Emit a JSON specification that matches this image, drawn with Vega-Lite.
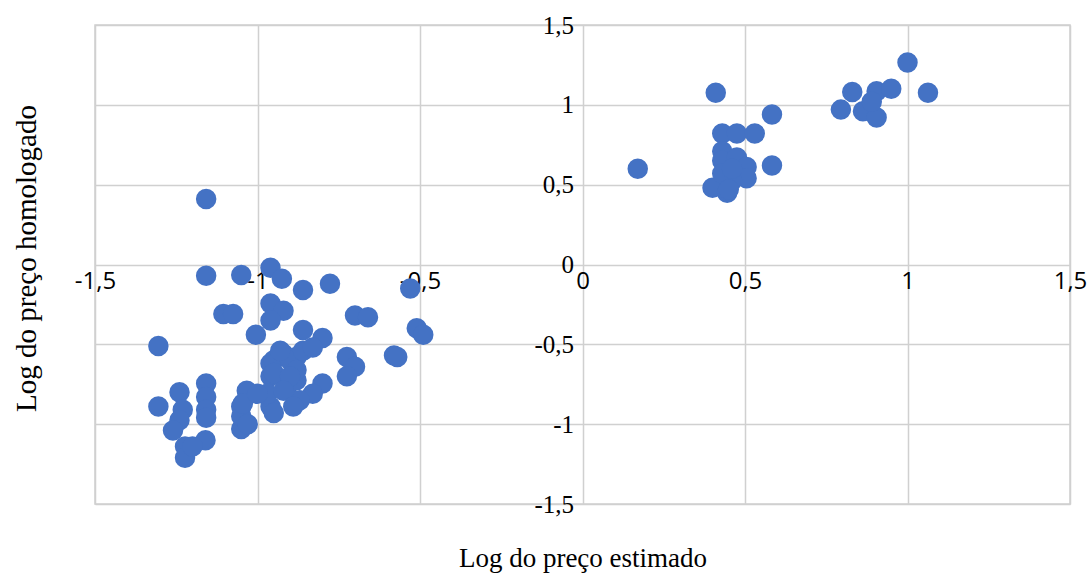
{
  "$schema": "https://vega.github.io/schema/vega-lite/v6.json",
  "autosize": "none",
  "width": 975,
  "height": 479,
  "padding": {"left": 95, "top": 25, "right": 20, "bottom": 70},
  "background": "white",
  "config": {
    "locale": {"number": {"decimal": ",", "thousands": ".", "grouping": [3], "currency": ["", ""], "minus": "-"}},
    "view": {"stroke": "#d0d0d0", "strokeWidth": 1.5},
    "font": "Liberation Serif"
  },
  "data": {"values": [
    {"x": 0.17, "y": 0.60}, {"x": 0.41, "y": 1.075}, {"x": 0.43, "y": 0.82}, {"x": 0.475, "y": 0.82}, {"x": 0.53, "y": 0.82},
    {"x": 0.583, "y": 0.94}, {"x": 0.583, "y": 0.62}, {"x": 0.43, "y": 0.71}, {"x": 0.43, "y": 0.65}, {"x": 0.475, "y": 0.67},
    {"x": 0.505, "y": 0.61}, {"x": 0.505, "y": 0.54}, {"x": 0.40, "y": 0.48}, {"x": 0.445, "y": 0.45}, {"x": 0.46, "y": 0.525},
    {"x": 0.43, "y": 0.57}, {"x": 0.46, "y": 0.60}, {"x": 0.45, "y": 0.47},
    {"x": 1.0, "y": 1.265}, {"x": 1.063, "y": 1.075}, {"x": 0.83, "y": 1.08}, {"x": 0.905, "y": 1.085}, {"x": 0.95, "y": 1.10},
    {"x": 0.795, "y": 0.97}, {"x": 0.863, "y": 0.96}, {"x": 0.905, "y": 0.92}, {"x": 0.89, "y": 1.02},
    {"x": -1.158, "y": 0.41}, {"x": -1.158, "y": -0.07}, {"x": -1.05, "y": -0.065}, {"x": -0.96, "y": -0.02}, {"x": -0.925, "y": -0.09},
    {"x": -0.86, "y": -0.16}, {"x": -0.777, "y": -0.12}, {"x": -1.105, "y": -0.31}, {"x": -1.075, "y": -0.31}, {"x": -0.96, "y": -0.245},
    {"x": -0.92, "y": -0.29}, {"x": -0.96, "y": -0.35}, {"x": -1.005, "y": -0.44}, {"x": -1.305, "y": -0.51}, {"x": -1.305, "y": -0.89},
    {"x": -1.24, "y": -0.80}, {"x": -1.158, "y": -0.745}, {"x": -1.158, "y": -0.83}, {"x": -1.158, "y": -0.91}, {"x": -1.158, "y": -0.96},
    {"x": -1.23, "y": -0.91}, {"x": -1.24, "y": -0.975}, {"x": -1.26, "y": -1.04}, {"x": -1.223, "y": -1.14}, {"x": -1.223, "y": -1.21},
    {"x": -1.16, "y": -1.10}, {"x": -1.2, "y": -1.14}, {"x": -1.033, "y": -0.79}, {"x": -1.05, "y": -0.89}, {"x": -1.05, "y": -1.03},
    {"x": -1.05, "y": -0.95}, {"x": -1.045, "y": -0.87}, {"x": -1.03, "y": -1.0}, {"x": -0.96, "y": -0.62}, {"x": -0.96, "y": -0.70},
    {"x": -0.96, "y": -0.89}, {"x": -0.95, "y": -0.93}, {"x": -0.91, "y": -0.77}, {"x": -0.97, "y": -0.81}, {"x": -1.0, "y": -0.81},
    {"x": -0.88, "y": -0.58}, {"x": -0.88, "y": -0.725}, {"x": -0.92, "y": -0.56}, {"x": -0.86, "y": -0.41}, {"x": -0.80, "y": -0.46},
    {"x": -0.70, "y": -0.32}, {"x": -0.66, "y": -0.33}, {"x": -0.53, "y": -0.15}, {"x": -0.51, "y": -0.40}, {"x": -0.49, "y": -0.44},
    {"x": -0.58, "y": -0.57}, {"x": -0.57, "y": -0.58}, {"x": -0.725, "y": -0.58}, {"x": -0.70, "y": -0.64}, {"x": -0.725, "y": -0.70},
    {"x": -0.80, "y": -0.745}, {"x": -0.83, "y": -0.81}, {"x": -0.87, "y": -0.85}, {"x": -0.95, "y": -0.60}, {"x": -0.90, "y": -0.60},
    {"x": -0.88, "y": -0.66}, {"x": -0.95, "y": -0.68}, {"x": -0.90, "y": -0.70}, {"x": -0.92, "y": -0.79}, {"x": -0.89, "y": -0.89},
    {"x": -0.86, "y": -0.54}, {"x": -0.83, "y": -0.52}, {"x": -0.93, "y": -0.54}
  ]},
  "mark": {"type": "circle", "size": 420, "opacity": 1, "color": "#4472C4"},
  "encoding": {
    "x": {
      "field": "x", "type": "quantitative",
      "scale": {"domain": [-1.5, 1.5], "nice": false, "zero": false},
      "axis": {
        "title": "Log do preço estimado",
        "values": [-1.5, -1, -0.5, 0, 0.5, 1, 1.5],
        "format": "~g",
        "offset": -239.5,
        "domain": false,
        "ticks": false,
        "grid": true,
        "gridColor": "#d0d0d0",
        "gridWidth": 1.5,
        "labelFont": "Open Sans",
        "labelFontSize": 24,
        "labelColor": "#000000",
        "labelPadding": 5,
        "labelFlush": false,
        "labelOverlap": false,
        "titleFont": "Liberation Serif",
        "titleFontSize": 27,
        "titleFontWeight": "normal",
        "titleColor": "#000000",
        "titleY": 294,
        "titleBaseline": "middle"
      }
    },
    "y": {
      "field": "y", "type": "quantitative",
      "scale": {"domain": [-1.5, 1.5], "nice": false, "zero": false},
      "axis": {
        "title": "Log do preço homologado",
        "values": [-1.5, -1, -0.5, 0, 0.5, 1, 1.5],
        "format": "~g",
        "offset": -487.5,
        "domain": false,
        "ticks": false,
        "grid": true,
        "gridColor": "#d0d0d0",
        "gridWidth": 1.5,
        "labelFont": "Liberation Serif",
        "labelFontSize": 25,
        "labelColor": "#000000",
        "labelPadding": 9,
        "labelFlush": false,
        "labelOverlap": false,
        "titleFont": "Liberation Serif",
        "titleFontSize": 29,
        "titleFontWeight": "normal",
        "titleColor": "#000000",
        "titleX": -556,
        "titleY": 233,
        "titleBaseline": "middle",
        "titleAngle": -90,
        "titleAlign": "center"
      }
    }
  }
}
